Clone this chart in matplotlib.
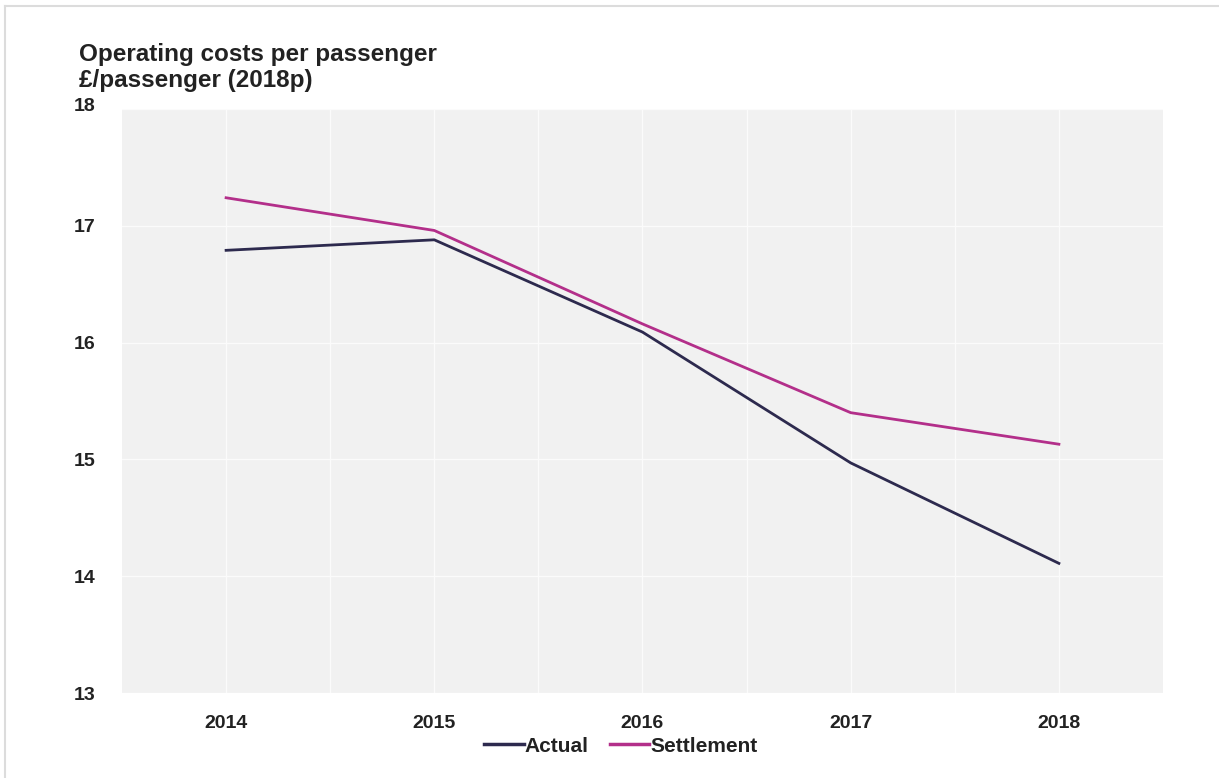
import matplotlib
matplotlib.use("Agg")
import matplotlib.pyplot as plt
from matplotlib.lines import Line2D
from matplotlib.transforms import ScaledTranslation

plt.rcParams['font.family'] = ['Liberation Sans', 'DejaVu Sans']

years = [2014, 2015, 2016, 2017, 2018]
actual = [16.79, 16.88, 16.09, 14.97, 14.11]
settlement = [17.24, 16.96, 16.16, 15.40, 15.13]
y_ticks = [13, 14, 15, 16, 17, 18]
title_lines = ["Operating costs per passenger", "£/passenger (2018p)"]

W, H = 1219, 778
fig = plt.figure(figsize=(W / 100, H / 100), dpi=100)
fig.patch.set_facecolor('white')

# thin frame along the top and left edges of the panel
fig.lines.append(Line2D([5 / W, 5 / W], [0, 1 - 6 / H], transform=fig.transFigure,
                        color='#dcdcdc', linewidth=1.5))
fig.lines.append(Line2D([5 / W, 1], [1 - 6 / H, 1 - 6 / H], transform=fig.transFigure,
                        color='#dcdcdc', linewidth=1.5))

ax = fig.add_axes([122 / W, 1 - 693 / H, (1163 - 122) / W, (693 - 109) / H])
ax.set_facecolor('#f1f1f1')

ax.plot(years, actual, color='#2d2a4e', linewidth=2.0, label='Actual', zorder=3)
ax.plot(years, settlement, color='#b32f8a', linewidth=2.0, label='Settlement', zorder=3)

ax.set_xlim(2013.5, 2018.5)
ax.set_ylim(13, 18)
ax.set_yticks(y_ticks)
ax.set_xticks(years)
ax.set_xticks([y + 0.5 for y in years[:-1]], minor=True)
ax.grid(True, which='major', axis='both', color='#fbfbfb', linewidth=1.0)
ax.grid(True, which='minor', axis='x', color='#fbfbfb', linewidth=1.0)
ax.set_axisbelow(True)

for s in ax.spines.values():
    s.set_visible(False)
ax.tick_params(axis='both', which='both', length=0, labelsize=14, colors='#222222')
ax.tick_params(axis='y', pad=19)
ax.tick_params(axis='x', pad=16)
for lab in ax.get_xticklabels() + ax.get_yticklabels():
    lab.set_fontweight('bold')

# nudge the top y label slightly above the plot edge
top_label = ax.get_yticklabels()[-1]
top_label.set_transform(top_label.get_transform() + ScaledTranslation(0, 3 / 72, fig.dpi_scale_trans))

fig.text(79 / W, 1 - 55 / H, title_lines[0], fontsize=17.5, fontweight='bold',
         color='#222222', va='center', ha='left')
fig.text(79 / W, 1 - 80 / H, title_lines[1], fontsize=17.5, fontweight='bold',
         color='#222222', va='center', ha='left')

leg = fig.legend(loc='center', bbox_to_anchor=(621 / W, 1 - 746 / H), ncol=2,
                 frameon=False, handlelength=1.9, handletextpad=0.05, columnspacing=1.0,
                 prop={'weight': 'bold', 'size': 15})
for t in leg.get_texts():
    t.set_color('#222222')
for h in leg.legend_handles:
    h.set_linewidth(2.5)

fig.savefig('out.png', dpi=100)
